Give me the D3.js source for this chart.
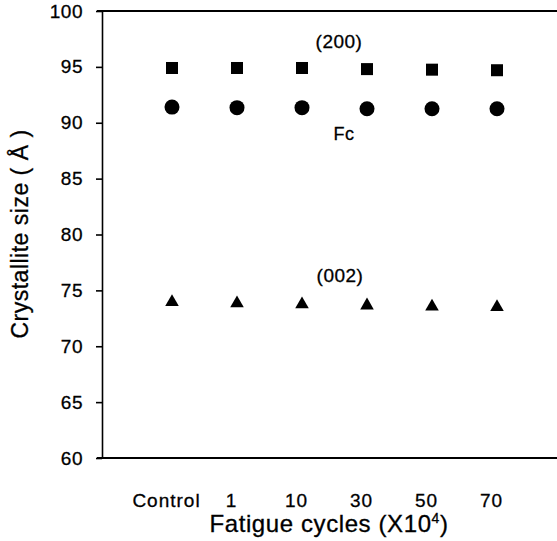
<!DOCTYPE html>
<html>
<head>
<meta charset="utf-8">
<script src="https://cdn.jsdelivr.net/npm/d3@7"></script>
<style>
  body { margin: 0; background: #fff; }
  text { font-family: "Liberation Sans", Arial, sans-serif; fill: #000; stroke: #000; stroke-width: 0.3px; }
</style>
</head>
<body>
<div id="chart"></div>
<script>
// Data
const categories = ['Control', '1', '10', '30', '50', '70']
const size200 = [94.9, 94.9, 94.9, 94.8, 94.75, 94.7]
const sizeFc = [91.4, 91.35, 91.35, 91.25, 91.25, 91.25]
const size002 = [73.95, 73.85, 73.75, 73.65, 73.55, 73.5]
const yTicks = [60, 65, 70, 75, 80, 85, 90, 95, 100]

const width = 557
const height = 541
const margin = { top: 11, right: 0, bottom: 83, left: 102 }

const svg = d3.select('#chart')
  .append('svg')
  .attr('width', width)
  .attr('height', height)

// Scales
const xScale = d3.scalePoint()
  .domain(categories)
  .range([margin.left + 70, width - 60])

const yScale = d3.scaleLinear()
  .domain([60, 100])
  .range([height - margin.bottom, margin.top])

// Axes
const yAxis = d3.axisLeft(yScale)
  .tickValues(yTicks)
  .tickSize(6)
  .tickPadding(13)
  .tickSizeOuter(0)

const yAxisGroup = svg.append('g')
  .attr('transform', `translate(${margin.left},0)`)
  .call(yAxis)
yAxisGroup.selectAll('text').style('font-size', '19px').attr('letter-spacing', 0.5)
yAxisGroup.selectAll('line, path').attr('stroke', '#000').attr('stroke-width', 1.6)

// top and bottom frame lines (no right side)
svg.append('line')
  .attr('x1', margin.left - 5).attr('x2', width)
  .attr('y1', yScale(100)).attr('y2', yScale(100))
  .attr('stroke', '#000').attr('stroke-width', 2)

const xAxis = d3.axisBottom(xScale)
  .tickSize(0)
  .tickPadding(36)
const xAxisGroup = svg.append('g')
  .attr('transform', `translate(0,${yScale(60)})`)
  .call(xAxis)
xAxisGroup.select('.domain').remove()
xAxisGroup.selectAll('text')
  .style('font-size', '19px')
  .attr('letter-spacing', 1)
  .attr('dx', -6)

svg.append('line')
  .attr('x1', margin.left - 5).attr('x2', width)
  .attr('y1', yScale(60)).attr('y2', yScale(60))
  .attr('stroke', '#000').attr('stroke-width', 2)

// Markers
svg.append('g').selectAll('rect')
  .data(size200)
  .join('rect')
  .attr('x', (d, i) => xScale(categories[i]) - 6)
  .attr('y', d => yScale(d) - 6)
  .attr('width', 12)
  .attr('height', 12)
  .attr('fill', '#000')

svg.append('g').selectAll('circle')
  .data(sizeFc)
  .join('circle')
  .attr('cx', (d, i) => xScale(categories[i]))
  .attr('cy', d => yScale(d))
  .attr('r', 7.5)
  .attr('fill', '#000')

const tri = d3.symbol().type(d3.symbolTriangle).size(80)
svg.append('g').selectAll('path')
  .data(size002)
  .join('path')
  .attr('d', tri)
  .attr('transform', (d, i) => `translate(${xScale(categories[i])},${yScale(d)})`)
  .attr('fill', '#000')

// Series labels
svg.append('text').attr('x', 339).attr('y', 48).attr('text-anchor', 'middle')
  .style('font-size', '19px').attr('letter-spacing', 0.5).text('(200)')
svg.append('text').attr('x', 344).attr('y', 140).attr('text-anchor', 'middle')
  .style('font-size', '18px').attr('letter-spacing', 0.5).text('Fc')
svg.append('text').attr('x', 340).attr('y', 282).attr('text-anchor', 'middle')
  .style('font-size', '19px').attr('letter-spacing', 0.5).text('(002)')

// Axis titles
const xTitle = svg.append('text')
  .attr('x', 329).attr('y', 532)
  .attr('text-anchor', 'middle')
  .style('font-size', '24px')
  .attr('letter-spacing', 0.6)
xTitle.append('tspan').text('Fatigue cycles (X10')
xTitle.append('tspan').attr('dy', -9).style('font-size', '14px').text('4')
xTitle.append('tspan').attr('dy', 9).text(')')

svg.append('text')
  .attr('transform', 'translate(28,234) rotate(-90)')
  .attr('text-anchor', 'middle')
  .style('font-size', '23px')
  .attr('letter-spacing', 0.5)
  .text('Crystallite size ( Å )')
</script>
</body>
</html>
